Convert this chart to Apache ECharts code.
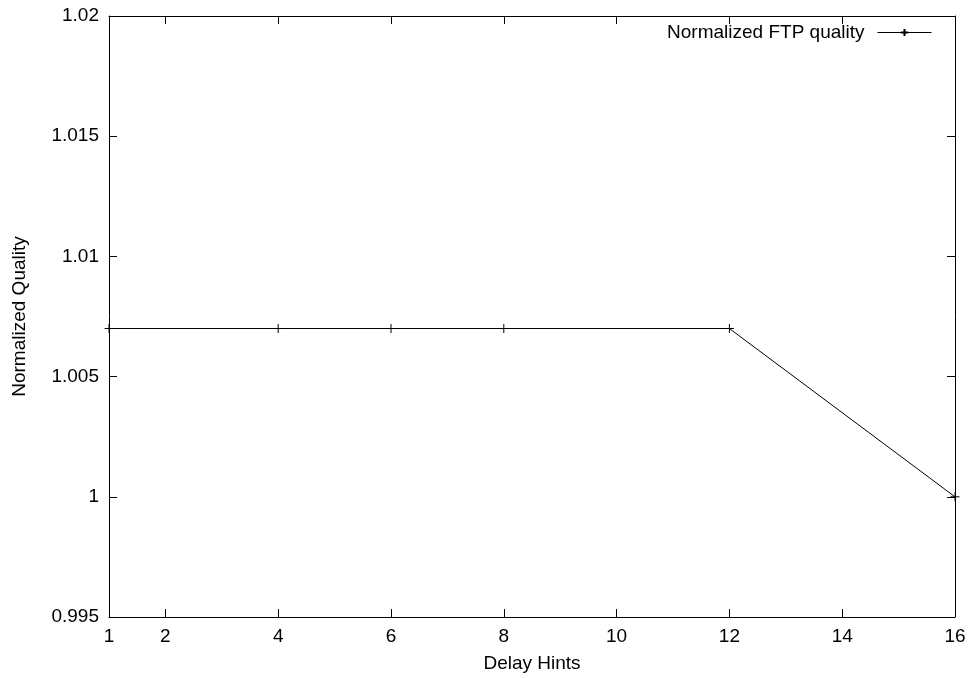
<!DOCTYPE html>
<html>
<head>
<meta charset="utf-8">
<title>Normalized FTP quality</title>
<script src="https://cdn.jsdelivr.net/npm/echarts@6/dist/echarts.min.js"></script>
<style>
  html, body { margin: 0; padding: 0; background: #fff; }
  #chart { width: 970px; height: 678px; }
</style>
</head>
<body>
<div id="chart"></div>
<script>
// Delay hints and the measured normalized quality for each
const delayHints = [1, 4, 6, 8, 12, 16];
const ftpQuality = [1.007, 1.007, 1.007, 1.007, 1.007, 1.0];

// Tick positions and labels
const xTickLabels = [1, 2, 4, 6, 8, 10, 12, 14, 16];
const xTickMarks = [2, 4, 6, 8, 10, 12, 14];
const yTickLabels = [0.995, 1, 1.005, 1.01, 1.015, 1.02];
const yTickMarks = [1, 1.005, 1.01, 1.015];

const FONT = '"Liberation Sans", Arial, Helvetica, sans-serif';
const FS = 19;
const plusSymbol = 'path://M0,5L10,5M5,0L5,10';

const chart = echarts.init(document.getElementById('chart'), null, { renderer: 'canvas' });

const baseX = {
  type: 'value', min: 1, max: 16,
  axisLine: { show: true, onZero: false, lineStyle: { color: '#000', width: 1 } },
  axisTick: { show: true, inside: true, length: 8, customValues: xTickMarks, lineStyle: { color: '#000', width: 1 } },
  splitLine: { show: false }
};
const baseY = {
  type: 'value', min: 0.995, max: 1.02,
  axisLine: { show: true, onZero: false, lineStyle: { color: '#000', width: 1 } },
  axisTick: { show: true, inside: true, length: 8, customValues: yTickMarks, lineStyle: { color: '#000', width: 1 } },
  splitLine: { show: false }
};

chart.setOption({
  animation: false,
  backgroundColor: '#fff',
  textStyle: { fontFamily: FONT },
  grid: { left: 109, right: 15, top: 16, bottom: 61, containLabel: false },
  legend: {
    right: 33, top: 18,
    align: 'right',
    itemWidth: 54, itemHeight: 9,
    lineStyle: { width: 1 },
    textStyle: { fontFamily: FONT, fontSize: FS, color: '#000', padding: [0, 8, 0, 0] },
    data: ['Normalized FTP quality']
  },
  xAxis: [
    Object.assign({}, baseX, {
      position: 'bottom',
      name: 'Delay Hints', nameLocation: 'middle', nameGap: 37,
      nameTextStyle: { fontFamily: FONT, fontSize: FS, color: '#000' },
      axisLabel: { show: true, customValues: xTickLabels, margin: 10, fontFamily: FONT, fontSize: FS, color: '#000' }
    }),
    Object.assign({}, baseX, { position: 'top', axisLabel: { show: false } })
  ],
  yAxis: [
    Object.assign({}, baseY, {
      position: 'left',
      name: 'Normalized Quality', nameLocation: 'middle', nameGap: 80,
      nameTextStyle: { fontFamily: FONT, fontSize: FS, color: '#000' },
      axisLabel: { show: true, customValues: yTickLabels, margin: 10, fontFamily: FONT, fontSize: FS, color: '#000' }
    }),
    Object.assign({}, baseY, { position: 'right', axisLabel: { show: false } })
  ],
  series: [{
    name: 'Normalized FTP quality',
    type: 'line',
    xAxisIndex: 0, yAxisIndex: 0,
    data: delayHints.map((x, i) => [x, ftpQuality[i]]),
    symbol: plusSymbol,
    symbolSize: 9,
    showAllSymbol: true,
    lineStyle: { color: '#000', width: 1 },
    itemStyle: { color: 'rgba(0,0,0,0)', borderColor: '#000', borderWidth: 1 },
    emphasis: { disabled: true }
  }]
});
</script>
</body>
</html>
